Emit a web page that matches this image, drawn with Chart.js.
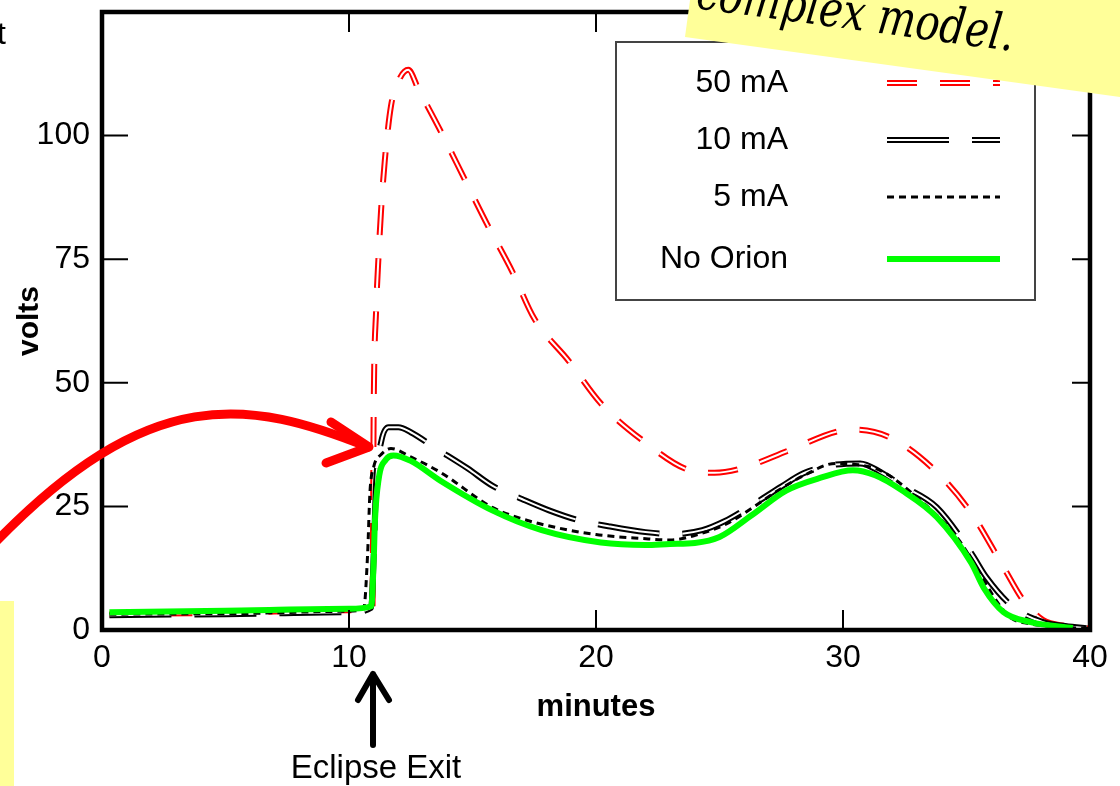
<!doctype html>
<html lang="en">
<head>
<meta charset="UTF-8">
<title>Bus voltage after eclipse exit</title>
<script src="https://cdn.jsdelivr.net/npm/chart.js@4.4.1/dist/chart.umd.min.js"></script>
<style>
    * { margin: 0; padding: 0; box-sizing: border-box; }
    body { background: #fff; width: 1120px; height: 786px; overflow: hidden; }
    #canvas { display: block; }
</style>
</head>
<body>
<canvas id="canvas" width="1120" height="786"></canvas>
<script>
// values: minutes (t) and volts (v) per curve
const t50 = [0.3, 5, 10, 10.95, 11.0, 11.1, 11.2, 11.3, 11.45, 11.7, 12.0, 12.4, 12.8, 13.7, 14.7, 15.6, 16.6, 17.5, 18.9, 20.2, 21.9, 23.8, 24.8, 25.9, 27.8, 29.9, 30.5, 32.0, 33.8, 35.2, 36.5, 37.3, 38.1, 39.0, 40];
const v50 = [3.2, 3.5, 4.0, 4.5, 45, 65, 76, 85, 95, 106, 111, 113.3, 109.5, 101, 91, 82, 72.6, 63, 54.4, 45.8, 38.3, 32.3, 31.8, 32.7, 36.3, 40.3, 40.5, 38.7, 31.9, 23.6, 12.7, 6, 2, 0.8, 0.3];

const t10 = [0.3, 5, 10, 10.9, 11.0, 11.1, 11.3, 11.6, 12.0, 12.5, 13.5, 14.8, 15.8, 17.0, 18.1, 19.3, 20.5, 22.0, 23.1, 24.3, 25.2, 26.3, 27.5, 28.4, 29.5, 30.7, 31.5, 32.4, 33.8, 35.2, 35.8, 36.9, 38.1, 39.0, 40];
const v10 = [3.0, 3.2, 3.6, 4.5, 15, 30, 38, 41, 41, 40, 36.8, 32.7, 29.2, 26.5, 24.2, 22.2, 21.0, 19.8, 19.4, 20.2, 22.0, 25.2, 29.0, 31.7, 33.3, 33.7, 32.0, 29.2, 24.8, 15.5, 10.7, 4.6, 1.6, 0.8, 0.3];

const t5 = [0.3, 5, 10, 10.6, 10.75, 10.85, 11.0, 11.3, 11.7, 12.5, 13.7, 15.8, 17.0, 18.5, 20.0, 21.9, 23.0, 24.3, 25.3, 26.3, 27.3, 28.4, 29.7, 30.5, 31.5, 33.0, 34.6, 35.4, 36.2, 36.8, 37.4, 38.5, 40];
const v5 = [3.2, 3.3, 3.8, 4.5, 15, 28, 33, 35.5, 36.7, 35, 31.9, 24.8, 22.5, 20.6, 19.3, 18.5, 18.2, 19.6, 21.5, 24.6, 28, 31.2, 33.7, 33.5, 32.3, 26.8, 18.8, 12.7, 6, 2.4, 1.4, 0.7, 0.3];

const tNo = [0.3, 5, 10, 10.9, 11.0, 11.05, 11.2, 11.5, 11.8, 12.5, 13.7, 15.8, 17.8, 20.2, 22.0, 23.0, 24.0, 25.0, 26.3, 27.7, 29.1, 30.4, 31.3, 32.4, 33.8, 35.2, 35.7, 36.5, 37.6, 39.3];
const vNo = [3.6, 3.9, 4.3, 4.8, 14, 22, 30.5, 34.5, 35.3, 34.2, 30.2, 24.2, 20.2, 17.7, 17.2, 17.4, 17.6, 18.8, 23.2, 28.2, 30.8, 32.3, 31.3, 28.2, 22.8, 13.5, 8.5, 3.6, 1.6, 0.4];

const xTicks = [0, 10, 20, 30, 40];
const yTicks = [0, 25, 50, 75, 100];
const legendLabels = ['50 mA', '10 mA', '5 mA', 'No Orion'];

const FONT = "'Liberation Sans', Arial, sans-serif";
const pts = (t, v) => t.map((x, i) => ({ x: x, y: v[i] }));

// frame with inward tick marks, like the original plot
const frameTicks = {
    id: 'frameTicks',
    afterDatasetsDraw(chart) {
        const { ctx, chartArea: a, scales: { x, y } } = chart;
        ctx.save();
        ctx.strokeStyle = '#000';
        ctx.lineWidth = 2;
        ctx.beginPath();
        x.ticks.forEach(tk => {
            const px = x.getPixelForValue(tk.value);
            ctx.moveTo(px, a.bottom); ctx.lineTo(px, a.bottom - 20);
            ctx.moveTo(px, a.top); ctx.lineTo(px, a.top + 20);
        });
        y.ticks.forEach(tk => {
            const py = y.getPixelForValue(tk.value);
            ctx.moveTo(a.left, py); ctx.lineTo(a.left + 26, py);
            ctx.moveTo(a.right, py); ctx.lineTo(a.right - 18, py);
        });
        ctx.stroke();
        ctx.lineWidth = 4.5;
        ctx.strokeRect(a.left, a.top, a.right - a.left, a.bottom - a.top);
        ctx.restore();
    }
};

// boxed legend: label on the left, line sample on the right
const legendBox = {
    id: 'legendBox',
    afterDraw(chart) {
        const ctx = chart.ctx;
        const sets = chart.data.datasets;
        const rows = [83, 140, 197, 259];
        ctx.save();
        ctx.fillStyle = '#fff';
        ctx.fillRect(616, 42, 419, 258);
        ctx.strokeStyle = '#444';
        ctx.lineWidth = 2;
        ctx.strokeRect(616, 42, 419, 258);
        ctx.font = '32px ' + FONT;
        ctx.textAlign = 'right';
        ctx.textBaseline = 'middle';
        legendLabels.forEach((name, i) => {
            const y = rows[i];
            ctx.fillStyle = '#000';
            ctx.fillText(name, 788, y);
            [sets.find(d => d.label === name), sets.find(d => d.label === name + ' inner')].forEach(d => {
                if (!d) return;
                ctx.strokeStyle = d.borderColor;
                ctx.lineWidth = d.borderWidth;
                ctx.setLineDash(d.borderDash || []);
                ctx.beginPath();
                ctx.moveTo(887, y);
                ctx.lineTo(1000, y);
                ctx.stroke();
            });
            ctx.setLineDash([]);
        });
        ctx.restore();
    }
};

// slide decorations around the chart
const slideBits = {
    id: 'slideBits',
    afterDraw(chart) {
        const ctx = chart.ctx;
        ctx.save();

        // sticky note in the corner
        ctx.fillStyle = '#ffff99';
        ctx.beginPath();
        ctx.moveTo(690, 0);
        ctx.lineTo(1120, 0);
        ctx.lineTo(1120, 97);
        ctx.lineTo(685, 37);
        ctx.closePath();
        ctx.fill();
        ctx.save();
        ctx.translate(695, 8);
        ctx.rotate(0.135);
        ctx.fillStyle = '#000';
        ctx.font = "italic 50px 'DejaVu Serif', serif";
        ctx.textAlign = 'left';
        ctx.textBaseline = 'alphabetic';
        ctx.fillText('complex model.', 0, 0, 320);
        ctx.restore();

        // yellow strip bottom left
        ctx.fillStyle = '#ffff99';
        ctx.fillRect(0, 601, 14, 185);

        // cut-off text top left
        ctx.fillStyle = '#000';
        ctx.font = '32px ' + FONT;
        ctx.textAlign = 'left';
        ctx.textBaseline = 'alphabetic';
        ctx.fillText('t', -3, 44);

        // red pointer arrow
        ctx.strokeStyle = '#ff0000';
        ctx.lineWidth = 9;
        ctx.lineCap = 'round';
        ctx.lineJoin = 'round';
        ctx.beginPath();
        ctx.moveTo(-10, 548);
        ctx.bezierCurveTo(150, 380, 250, 400, 368, 447);
        ctx.stroke();
        ctx.beginPath();
        ctx.moveTo(331, 422);
        ctx.lineTo(369, 447);
        ctx.lineTo(326, 463);
        ctx.stroke();

        // eclipse exit marker
        ctx.strokeStyle = '#000';
        ctx.lineWidth = 6;
        ctx.beginPath();
        ctx.moveTo(373, 745);
        ctx.lineTo(373, 674);
        ctx.moveTo(358, 700);
        ctx.lineTo(373, 674);
        ctx.lineTo(389, 700);
        ctx.stroke();
        ctx.fillStyle = '#000';
        ctx.font = '33px ' + FONT;
        ctx.textAlign = 'center';
        ctx.fillText('Eclipse Exit', 376, 778);

        ctx.restore();
    }
};

new Chart(document.getElementById('canvas'), {
    type: 'line',
    data: {
        datasets: [
            { label: 'No Orion', data: pts(tNo, vNo), borderColor: '#00ff00', borderWidth: 6, order: 0 },
            { label: '5 mA', data: pts(t5, v5), borderColor: '#000', borderWidth: 3, borderDash: [7, 5], order: 1 },
            { label: '10 mA inner', data: pts(t10, v10), borderColor: '#fff', borderWidth: 2, borderDash: [62, 23], order: 2 },
            { label: '10 mA', data: pts(t10, v10), borderColor: '#000', borderWidth: 6, borderDash: [62, 23], order: 3 },
            { label: '50 mA inner', data: pts(t50, v50), borderColor: '#fff', borderWidth: 2, borderDash: [30, 23], order: 4 },
            { label: '50 mA', data: pts(t50, v50), borderColor: '#ff0000', borderWidth: 6, borderDash: [30, 23], order: 5 }
        ]
    },
    options: {
        responsive: false,
        animation: false,
        events: [],
        layout: { padding: { top: 12, right: 30, left: 0, bottom: 0 } },
        elements: {
            point: { radius: 0 },
            line: { cubicInterpolationMode: 'monotone', fill: false }
        },
        plugins: { legend: { display: false }, tooltip: { enabled: false } },
        scales: {
            x: {
                type: 'linear', min: 0, max: 40,
                afterBuildTicks: s => { s.ticks = xTicks.map(v => ({ value: v })); },
                afterFit: s => { s.height = 156; s.paddingLeft = 0; s.paddingRight = 0; },
                grid: { display: false, drawTicks: false },
                border: { display: false },
                ticks: { color: '#000', padding: 9, maxRotation: 0, font: { family: FONT, size: 32 } },
                title: { display: true, text: 'minutes', color: '#000', padding: { bottom: 60 }, font: { family: FONT, size: 31, weight: 'bold' } }
            },
            y: {
                type: 'linear', min: 0, max: 125,
                afterBuildTicks: s => { s.ticks = yTicks.map(v => ({ value: v })); },
                afterFit: s => { s.width = 102; s.paddingTop = 0; s.paddingBottom = 0; },
                grid: { display: false, drawTicks: false },
                border: { display: false },
                ticks: { color: '#000', padding: 12, font: { family: FONT, size: 32 } },
                title: { display: true, text: 'volts', color: '#000', padding: { top: 12 }, font: { family: FONT, size: 30, weight: 'bold' } }
            }
        }
    },
    plugins: [frameTicks, legendBox, slideBits]
});
</script>
</body>
</html>
